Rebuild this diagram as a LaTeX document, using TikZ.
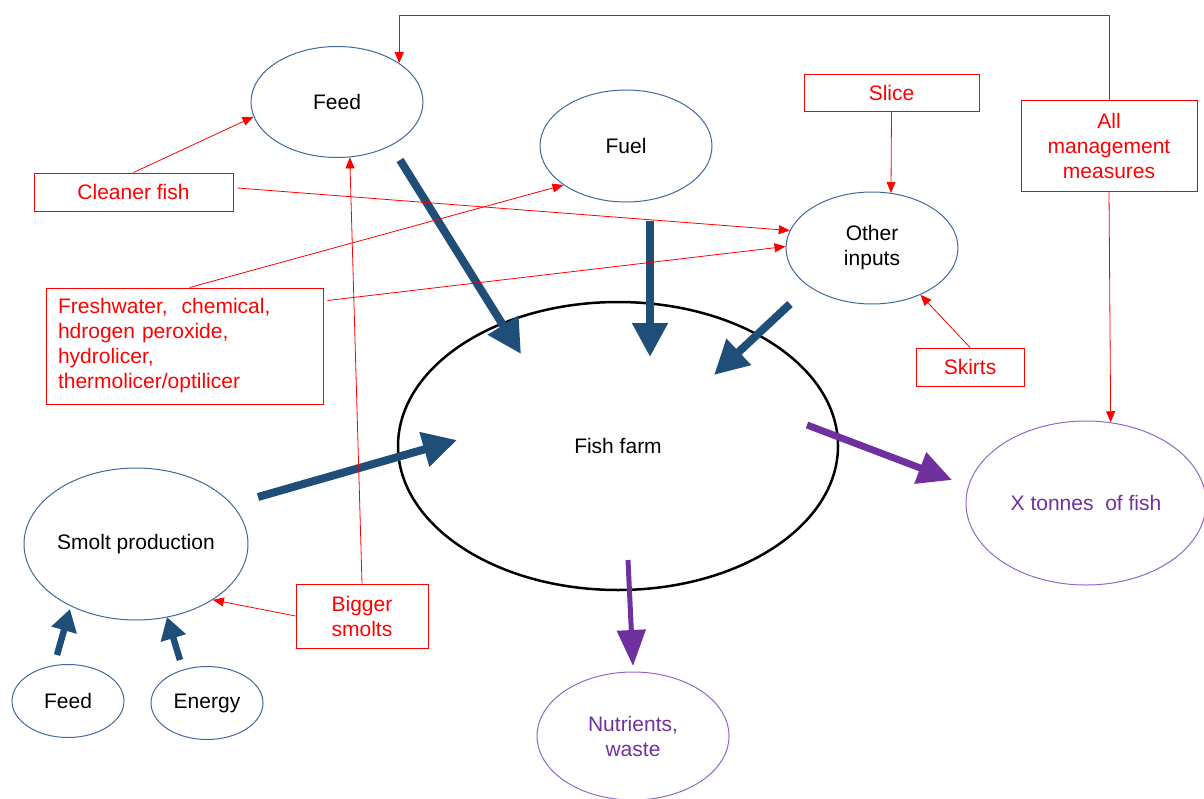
\documentclass[tikz,border=0pt]{standalone}
\usepackage{fontspec}
\setmainfont{Liberation Sans}
\usetikzlibrary{arrows.meta,calc,shapes.geometric}
\definecolor{ellblue}{HTML}{41689C}
\definecolor{arrblue}{HTML}{1F4E79}
\definecolor{purp}{HTML}{7030A0}
\definecolor{purpline}{HTML}{9366C8}
\begin{document}
\begin{tikzpicture}[x=1pt,y=-1pt,
  every node/.style={font=\fontsize{21}{25}\selectfont},
  ell/.style={ellipse, draw=ellblue, line width=1pt, inner sep=0pt, text=black, align=center},
  pell/.style={ellipse, draw=purpline, line width=1pt, inner sep=0pt, text=purp, align=center},
  redbox/.style={rectangle, draw=red, line width=1pt, text=red, inner sep=0pt, align=center},
  redline/.style={draw=red, line width=0.8pt, -{Triangle[length=11pt,width=9pt]}},
  bigblue/.style={draw=arrblue, line width=8pt, -{Triangle[length=34pt,width=34pt]}},
  smallblue/.style={draw=arrblue, line width=6.5pt, -{Triangle[length=22pt,width=25pt]}},
  purparrow/.style={draw=purp, line width=7pt, -{Triangle[length=34pt,width=32pt]}},
  purparrowb/.style={draw=purp, line width=5pt, -{Triangle[length=36pt,width=28pt]}}
]
\useasboundingbox (0,0) rectangle (1204,798);

% ellipses
\node[ell, minimum width=172, minimum height=111] (feed) at (337,102) {Feed};
\node[ell, minimum width=172, minimum height=112] (fuel) at (626,146) {Fuel};
\node[ell, minimum width=172, minimum height=112] (other) at (872,248) {Other\\inputs};
\node[ellipse, draw=black, line width=2.5pt, inner sep=0pt, minimum width=440, minimum height=288] (farm) at (618,446) {Fish farm};
\node[ell, minimum width=224, minimum height=152] (smolt) at (136,544) {Smolt production};
\node[ell, minimum width=112, minimum height=73] (feeds) at (68,701) {Feed};
\node[ell, minimum width=112, minimum height=73] (energy) at (207,703) {Energy};
\node[pell, minimum width=240, minimum height=164] (xt) at (1086,503) {X tonnes\ \ of fish};
\node[pell, minimum width=192, minimum height=128] (nut) at (633,736) {Nutrients,\\waste};

% red boxes
\node[redbox, minimum width=199, minimum height=38] (cleaner) at (133.5,192) {Cleaner fish};
\node[redbox, minimum width=277, minimum height=116, text width=253, align=left] (fresh) at (184.5,346) {Freshwater,\ \ chemical,\\hdrogen peroxide,\\hydrolicer,\\thermolicer/optilicer};
\node[redbox, minimum width=175, minimum height=37] (slice) at (891.5,92.5) {Slice};
\node[redbox, minimum width=176, minimum height=91] (mgmt) at (1109,145.5) {All\\management\\measures};
\node[redbox, minimum width=108, minimum height=38] (skirts) at (970,367) {Skirts};
\node[redbox, minimum width=132, minimum height=64] (bigger) at (362,616) {Bigger\\smolts};

% thick flow arrows
\draw[bigblue] ($(feed)+(63,58)$) -- ($(farm)+(-97,-92)$);
\draw[bigblue] ($(fuel)+(24,75)$) -- ($(farm)+(32,-89)$);
\draw[bigblue] ($(other)+(-82,56)$) -- ($(farm)+(96,-71)$);
\draw[bigblue] ($(smolt)+(122,-47)$) -- ($(farm)+(-161,-6)$);
\draw[smallblue] ($(feeds)+(-11,-46)$) -- ($(smolt)+(-66,65)$);
\draw[smallblue] ($(energy)+(-27,-43)$) -- ($(smolt)+(31,73)$);
\draw[purparrow] ($(farm)+(189,-21)$) -- ($(xt)+(-134,-23)$);
\draw[purparrowb] ($(farm)+(10,114)$) -- ($(nut)+(0,-70)$);

% red connectors
\coordinate (topy) at (0,15);
\draw[redline] (mgmt.north) |- (topy -| feed.32) -- (feed.32);
\draw[redline] (cleaner.north) -- (feed.190);
\draw[redline] ([xshift=4pt,yshift=4pt]cleaner.east) -- (other.168);
\draw[redline] ([xshift=5pt]fresh.north) -- (fuel.212);
\draw[redline] ([xshift=4pt,yshift=-13pt]fresh.north east) -- (other.179);
\draw[redline] (slice.south) -- (other.71);
\draw[redline] (skirts.north) -- (other.-44);
\draw[redline] (mgmt.south) -- (xt.73.5);
\draw[redline] (bigger.north) -- (feed.-77);
\draw[redline] (bigger.west) -- (smolt.-36);
\end{tikzpicture}
\end{document}
